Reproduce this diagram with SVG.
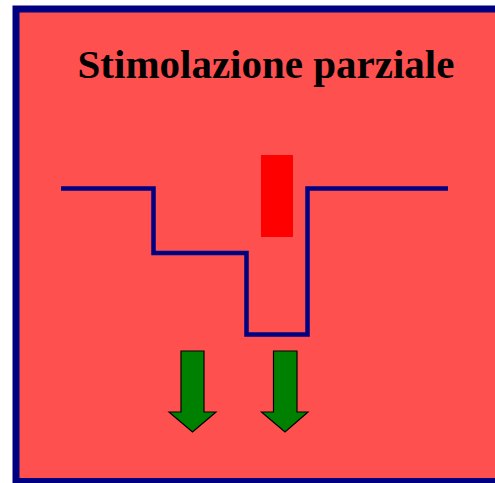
<svg xmlns="http://www.w3.org/2000/svg" width="495" height="483" viewBox="0 0 495 483">
<style>
.title{font-family:"Liberation Serif","Times New Roman",serif;font-weight:bold;font-size:41px;fill:#000}
.arrow{fill:#008000;stroke:#000;stroke-width:1.2;stroke-linejoin:miter}
</style>
<g id="frame">
<rect x="16" y="9" width="490" height="472.5" fill="#FF5050" stroke="#000080" stroke-width="7"/>
</g>
<g id="title"><text class="title" x="266" y="78" text-anchor="middle">Stimolazione parziale</text></g>
<g id="stimulus"><rect x="261" y="155" width="32" height="82" fill="#FF0000"/></g>
<g id="connectors">
<polyline points="61,188.5 153.5,188.5 153.5,253 246.5,253 246.5,334.5 307.5,334.5 307.5,188.5 448,188.5" fill="none" stroke="#000080" stroke-width="4.5"/>
</g>
<g id="arrow1"><polygon class="arrow" points="181,351 204,351 204,412 216,412 192.5,432 169,412 181,412"/></g>
<g id="arrow2"><polygon class="arrow" points="273.5,351 297,351 297,412 308,412 285,432 261.5,412 273.5,412"/></g>
</svg>
